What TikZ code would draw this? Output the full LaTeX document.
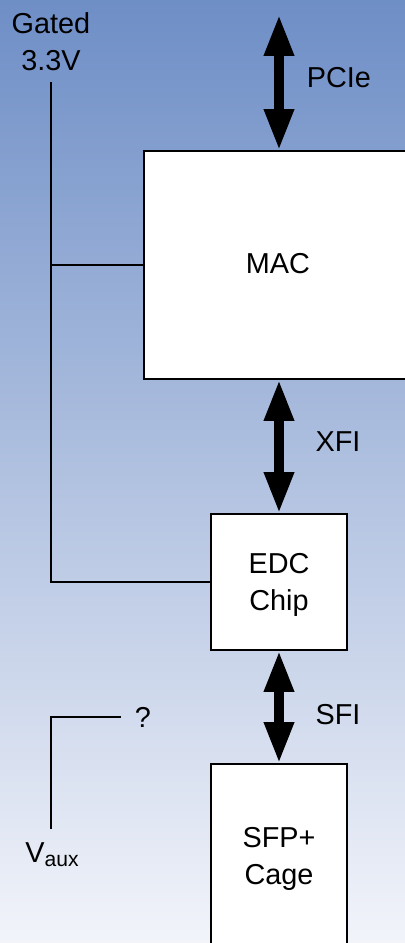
\documentclass[tikz,border=0pt]{standalone}
\usepackage{fontspec}
\setmainfont{Liberation Sans}
\usetikzlibrary{arrows.meta,positioning}
\definecolor{bgtop}{RGB}{110,142,198}
\definecolor{bgbottom}{RGB}{242,244,250}
\tikzset{
	block/.style={draw, fill=white, line width=1.4pt, align=center, font=\fontsize{20.5}{26}\selectfont},
	bus/.style={{Triangle[width=0.7cm,length=1.02cm]}-{Triangle[width=0.7cm,length=1.02cm]}, line width=0.23cm},
	rail/.style={line width=1.3pt},
	lbl/.style={align=center, inner sep=0pt, font=\fontsize{20.5}{26}\selectfont}
}
\begin{document}
\begin{tikzpicture}[x=0.025cm, y=-0.025cm]
	\useasboundingbox (0,0) rectangle (405,943);
	\shade[top color=bgtop, bottom color=bgbottom] (0,0) rectangle (405,943);
	\clip (0,0) rectangle (405,943);
	% blocks
	\node[block, anchor=north west, minimum width=7cm, minimum height=5.7cm] (mac) at (143,150) {};
	\node[lbl] (maclbl) at (278,264) {MAC};
	\node[block, minimum width=3.4cm, minimum height=3.4cm] (edc) at (279,582) {};
	\node[lbl] (edclbl) at (279,585) {EDC\\Chip};
	\node[block, anchor=north, minimum width=3.4cm, minimum height=4.75cm] (sfp) at (279,763) {SFP+\\Cage};
	% buses
	\coordinate (pcitop) at (279,15);
	\draw[bus] (pcitop) -- node[lbl, pos=0.465, right=0.58cm] (pcie) {PCIe} (pcitop |- mac.north);
	\draw[bus] (edc.north |- mac.south) -- node[lbl, pos=0.46, right=0.8cm] (xfi) {XFI} (edc.north);
	\draw[bus] (edc.south) -- node[lbl, pos=0.57, right=0.8cm] (sfi) {SFI} (sfp.north);
	% power
	\node[lbl, inner sep=0.28cm, anchor=south] (gated) at (51,82) {Gated\\3.3V};
	\draw[rail] (gated.south) -- (gated.south |- edc.west) -- (edc.west);
	\draw[rail] (gated.south |- mac.west) -- (mac.west);
	\node[lbl, inner sep=0.33cm, anchor=north] (vaux) at (52,829) {V\raisebox{-0.1cm}{\fontsize{15}{15}\selectfont aux}};
	\node[lbl, inner sep=0.33cm] (q) at (143,717) {?};
	\draw[rail] (vaux.north -| gated.south) |- (q.west);
\end{tikzpicture}
\end{document}
